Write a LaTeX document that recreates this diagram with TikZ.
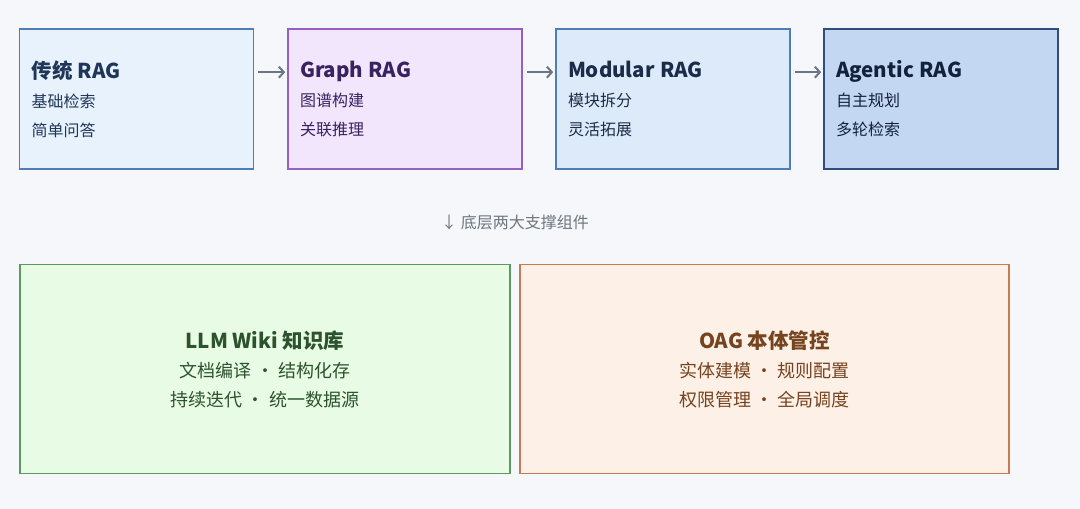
\documentclass[tikz,border=0pt]{standalone}
\usepackage{fontspec}
\setmainfont{Noto Sans CJK SC}
\usetikzlibrary{arrows.meta}

\definecolor{bgc}{HTML}{F5F7FA}
\definecolor{arrowc}{HTML}{6B7685}
\definecolor{notec}{HTML}{6F7680}
\definecolor{tradfill}{HTML}{E8F2FD}
\definecolor{tradline}{HTML}{4F7DB8}
\definecolor{tradtext}{HTML}{1F3658}
\definecolor{graphfill}{HTML}{F1E6FC}
\definecolor{graphline}{HTML}{9460C2}
\definecolor{graphtext}{HTML}{3A2160}
\definecolor{modfill}{HTML}{DDEAFA}
\definecolor{modline}{HTML}{4F7DB8}
\definecolor{modtext}{HTML}{1C2C48}
\definecolor{agentfill}{HTML}{C3D7F2}
\definecolor{agentline}{HTML}{2F4E7E}
\definecolor{agenttext}{HTML}{13223C}
\definecolor{wikifill}{HTML}{E8FBE4}
\definecolor{wikiline}{HTML}{5C9A62}
\definecolor{wikitext}{HTML}{2C532D}
\definecolor{oagfill}{HTML}{FDF0E6}
\definecolor{oagline}{HTML}{C87A52}
\definecolor{oagtext}{HTML}{76431F}

\newcommand\stagetitle[1]{{\fontsize{20.5}{29}\selectfont\bfseries #1}}

\begin{document}
\begin{tikzpicture}
[
x=1pt, y=1pt,
stage/.style={rectangle, draw, line width=1.6pt, minimum width=234pt, minimum height=140pt, text width=210pt, align=left, font=\fontsize{16}{29}\selectfont},
base/.style={rectangle, draw, line width=1.6pt, minimum width=490pt, minimum height=209pt, align=center, font=\fontsize{18}{29}\selectfont},
flow/.style={-{Straight Barb[length=5pt,width=11pt]}, line width=2pt, draw=arrowc, shorten <=4pt, shorten >=2pt}
]
\fill[bgc] (0,0) rectangle (1080,509);
\useasboundingbox (0,0) rectangle (1080,509);

% evolution of RAG
\node[stage, fill=tradfill, draw=tradline, text=tradtext] (trad) at (136.5,410) {\stagetitle{传统 RAG}\\ 基础检索\\ 简单问答};
\node[stage, fill=graphfill, draw=graphline, text=graphtext] (graph) at (405,410) {\stagetitle{Graph RAG}\\ 图谱构建\\ 关联推理};
\node[stage, fill=modfill, draw=modline, text=modtext] (modular) at (673,410) {\stagetitle{Modular RAG}\\ 模块拆分\\ 灵活拓展};
\node[stage, fill=agentfill, draw=agentline, text=agenttext] (agentic) at (941,410) {\stagetitle{Agentic RAG}\\ 自主规划\\ 多轮检索};

\draw[flow] ([yshift=-44pt]trad.north east) -- ([yshift=-44pt]graph.north west);
\draw[flow] ([yshift=-44pt]graph.north east) -- ([yshift=-44pt]modular.north west);
\draw[flow] ([yshift=-44pt]modular.north east) -- ([yshift=-44pt]agentic.north west);

\node[text=notec, font=\fontsize{16}{18}\selectfont] (note) at (515,287) {↓ 底层两大支撑组件};

% supporting components
\node[base, fill=wikifill, draw=wikiline, text=wikitext] (wiki) at (265,140) {\stagetitle{LLM Wiki 知识库}\\ 文档编译 · 结构化存\\ 持续迭代 · 统一数据源};
\node[base, minimum width=489pt, fill=oagfill, draw=oagline, text=oagtext] (oag) at (764.5,140) {\stagetitle{OAG 本体管控}\\ 实体建模 · 规则配置\\ 权限管理 · 全局调度};
\end{tikzpicture}
\end{document}
